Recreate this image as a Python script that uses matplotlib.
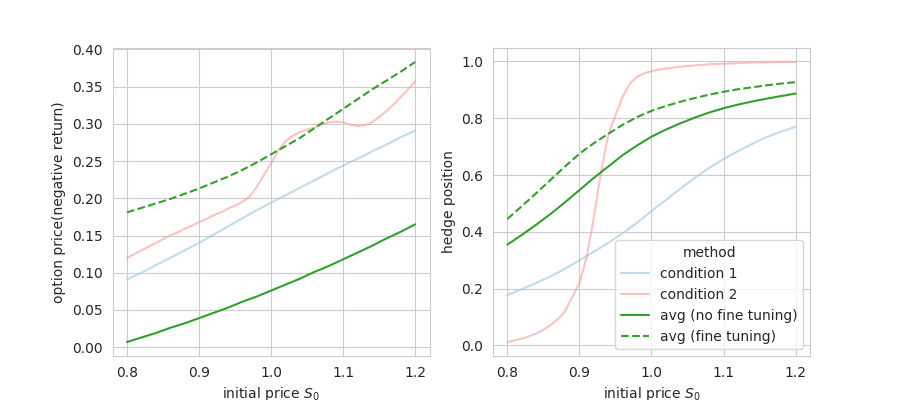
import numpy as np
import matplotlib
matplotlib.use("Agg")
import matplotlib.pyplot as plt
import seaborn as sns

# x grids
x_coarse = np.round(np.arange(0.80, 1.2001, 0.02), 2)
x_fine = np.round(np.arange(0.80, 1.2001, 0.01), 2)

# left panel: option price (negative return)
price_cond1 = [0.091, 0.100, 0.110, 0.120, 0.130, 0.140, 0.151, 0.162, 0.173, 0.184, 0.194,
               0.204, 0.214, 0.224, 0.234, 0.244, 0.253, 0.263, 0.272, 0.282, 0.291]
price_cond2 = [0.120, 0.125, 0.130, 0.135, 0.140, 0.145, 0.150, 0.154, 0.159, 0.163, 0.168,
               0.172, 0.177, 0.181, 0.186, 0.190, 0.195, 0.202, 0.215, 0.231, 0.247,
               0.264, 0.276, 0.284, 0.289, 0.292, 0.295, 0.299, 0.302, 0.303, 0.302,
               0.299, 0.297, 0.298, 0.302, 0.309, 0.317, 0.326, 0.336, 0.346, 0.357]
price_avg = [0.007, 0.013, 0.019, 0.026, 0.032, 0.039, 0.046, 0.053, 0.061, 0.068, 0.076,
             0.084, 0.092, 0.101, 0.109, 0.118, 0.127, 0.136, 0.146, 0.155, 0.165]
price_avg_ft = [0.181, 0.187, 0.193, 0.199, 0.206, 0.213, 0.221, 0.229, 0.238, 0.248, 0.259,
                0.270, 0.281, 0.294, 0.307, 0.320, 0.333, 0.346, 0.358, 0.370, 0.383]

# right panel: hedge position
hedge_cond1 = [0.177, 0.198, 0.220, 0.243, 0.270, 0.300, 0.330, 0.361, 0.395, 0.432, 0.473,
               0.512, 0.552, 0.590, 0.625, 0.656, 0.684, 0.710, 0.734, 0.753, 0.770]
hedge_cond2 = [0.012, 0.018, 0.024, 0.032, 0.042, 0.055, 0.072, 0.092, 0.120, 0.170, 0.220,
               0.310, 0.450, 0.610, 0.740, 0.810, 0.876, 0.922, 0.946, 0.958, 0.966,
               0.971, 0.975, 0.978, 0.981, 0.984, 0.986, 0.988, 0.990, 0.991, 0.992,
               0.993, 0.994, 0.995, 0.996, 0.996, 0.997, 0.997, 0.998, 0.998, 0.998]
hedge_avg = [0.355, 0.389, 0.425, 0.463, 0.504, 0.547, 0.590, 0.630, 0.670, 0.704, 0.735,
             0.760, 0.782, 0.802, 0.820, 0.835, 0.848, 0.859, 0.869, 0.878, 0.887]
hedge_avg_ft = [0.445, 0.490, 0.536, 0.583, 0.630, 0.675, 0.712, 0.745, 0.777, 0.804, 0.826,
                0.843, 0.858, 0.871, 0.883, 0.893, 0.902, 0.909, 0.916, 0.922, 0.927]

labels = ["condition 1", "condition 2", "avg (no fine tuning)", "avg (fine tuning)"]
pal = sns.color_palette("Paired")
c_blue, c_pink, c_green = pal[0], pal[4], pal[3]

sns.set_style("whitegrid")
fig, axes = plt.subplots(1, 2, figsize=(9, 4))

panels = [
    (axes[0], price_cond1, price_cond2, price_avg, price_avg_ft, "option price(negative return)"),
    (axes[1], hedge_cond1, hedge_cond2, hedge_avg, hedge_avg_ft, "hedge position"),
]
for ax, c1, c2, avg, avg_ft, ylab in panels:
    ax.plot(x_coarse, c1, color=c_blue, alpha=0.7, lw=1.5, label=labels[0])
    ax.plot(x_fine, c2, color=c_pink, alpha=0.6, lw=1.5, label=labels[1])
    ax.plot(x_coarse, avg, color=c_green, lw=1.5, label=labels[2])
    ax.plot(x_coarse, avg_ft, color=c_green, lw=1.5, ls="--", label=labels[3])
    ax.set_xlabel("initial price $S_0$")
    ax.set_ylabel(ylab)
    ax.set_xticks([0.8, 0.9, 1.0, 1.1, 1.2])

axes[1].legend(title="method", loc="lower right")

fig.savefig("out.png", dpi=100)
